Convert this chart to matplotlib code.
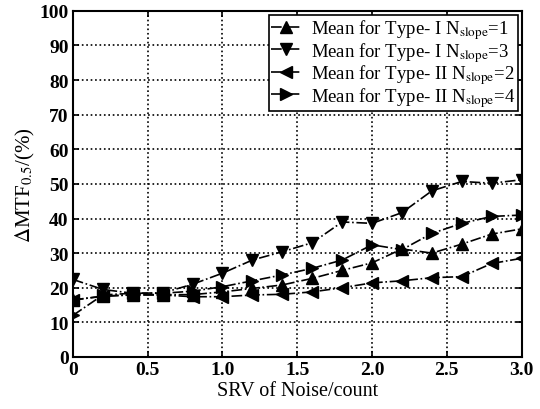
import numpy as np
import matplotlib
matplotlib.use('Agg')
import matplotlib.pyplot as plt

plt.rcParams['font.family'] = ['Liberation Serif', 'DejaVu Serif']
plt.rcParams['mathtext.fontset'] = 'stix'

# 数据
srv = [0, 0.2, 0.4, 0.6, 0.8, 1.0, 1.2, 1.4, 1.6, 1.8, 2.0, 2.2, 2.4, 2.6, 2.8, 3.0]
type1_n1 = [16.5, 17.5, 18.0, 18.0, 18.0, 18.8, 19.8, 20.8, 22.7, 25.0, 27.2, 31.2, 30.0, 32.6, 35.5, 37.0]
type1_n3 = [22.4, 19.5, 18.4, 18.5, 21.0, 24.2, 28.0, 30.4, 33.0, 39.0, 38.6, 41.7, 48.0, 50.7, 50.2, 51.2]
type2_n2 = [16.4, 17.6, 17.9, 17.9, 17.4, 17.4, 17.9, 18.1, 18.8, 20.0, 21.4, 22.0, 22.9, 23.2, 27.0, 28.5]
type2_n4 = [12.0, 17.9, 18.4, 18.4, 19.0, 20.3, 22.0, 23.7, 25.6, 28.0, 32.4, 31.0, 35.7, 38.6, 40.6, 41.0]

labels = [r'Mean for Type- I N$_{\mathrm{slope}}$=1',
          r'Mean for Type- I N$_{\mathrm{slope}}$=3',
          r'Mean for Type- II N$_{\mathrm{slope}}$=2',
          r'Mean for Type- II N$_{\mathrm{slope}}$=4']

fig = plt.figure(figsize=(5.4, 4.1), dpi=100)
ax = fig.add_axes([0.135, 0.127, 0.831, 0.844])

ax.plot(srv, type1_n1, 'k-.', marker='^', ms=8, lw=1.2, label=labels[0])
ax.plot(srv, type1_n3, 'k-.', marker='v', ms=8, lw=1.2, label=labels[1])
ax.plot(srv, type2_n2, 'k-.', marker='<', ms=8, lw=1.2, label=labels[2])
ax.plot(srv, type2_n4, 'k-.', marker='>', ms=8, lw=1.2, label=labels[3])

ax.set_xlim(0, 3.0)
ax.set_ylim(0, 100)
ax.set_xticks([0, 0.5, 1.0, 1.5, 2.0, 2.5, 3.0])
ax.set_xticklabels(['0', '0.5', '1.0', '1.5', '2.0', '2.5', '3.0'])
ax.set_yticks(range(0, 101, 10))
ax.tick_params(direction='in', labelsize=14, length=4, width=1.2, pad=3,
               top=True, right=True)
for t in ax.get_xticklabels() + ax.get_yticklabels():
    t.set_fontweight('bold')
ax.grid(True, color='k', linestyle=':', linewidth=1.2)
for s in ax.spines.values():
    s.set_linewidth(1.5)

ax.set_xlabel('SRV of Noise/count', fontsize=14.5, labelpad=2)
ax.set_ylabel(r'$\Delta$MTF$_{\mathit{0.5}}$/(%)', fontsize=15, labelpad=2)

leg = ax.legend(loc='upper right', fontsize=13.5, frameon=True, fancybox=False,
                edgecolor='k', framealpha=1, borderpad=0.15, labelspacing=-0.08,
                handlelength=1.6, handletextpad=0.5, borderaxespad=0.2)
leg.get_frame().set_linewidth(1.2)

fig.savefig('out.png', dpi=100)
